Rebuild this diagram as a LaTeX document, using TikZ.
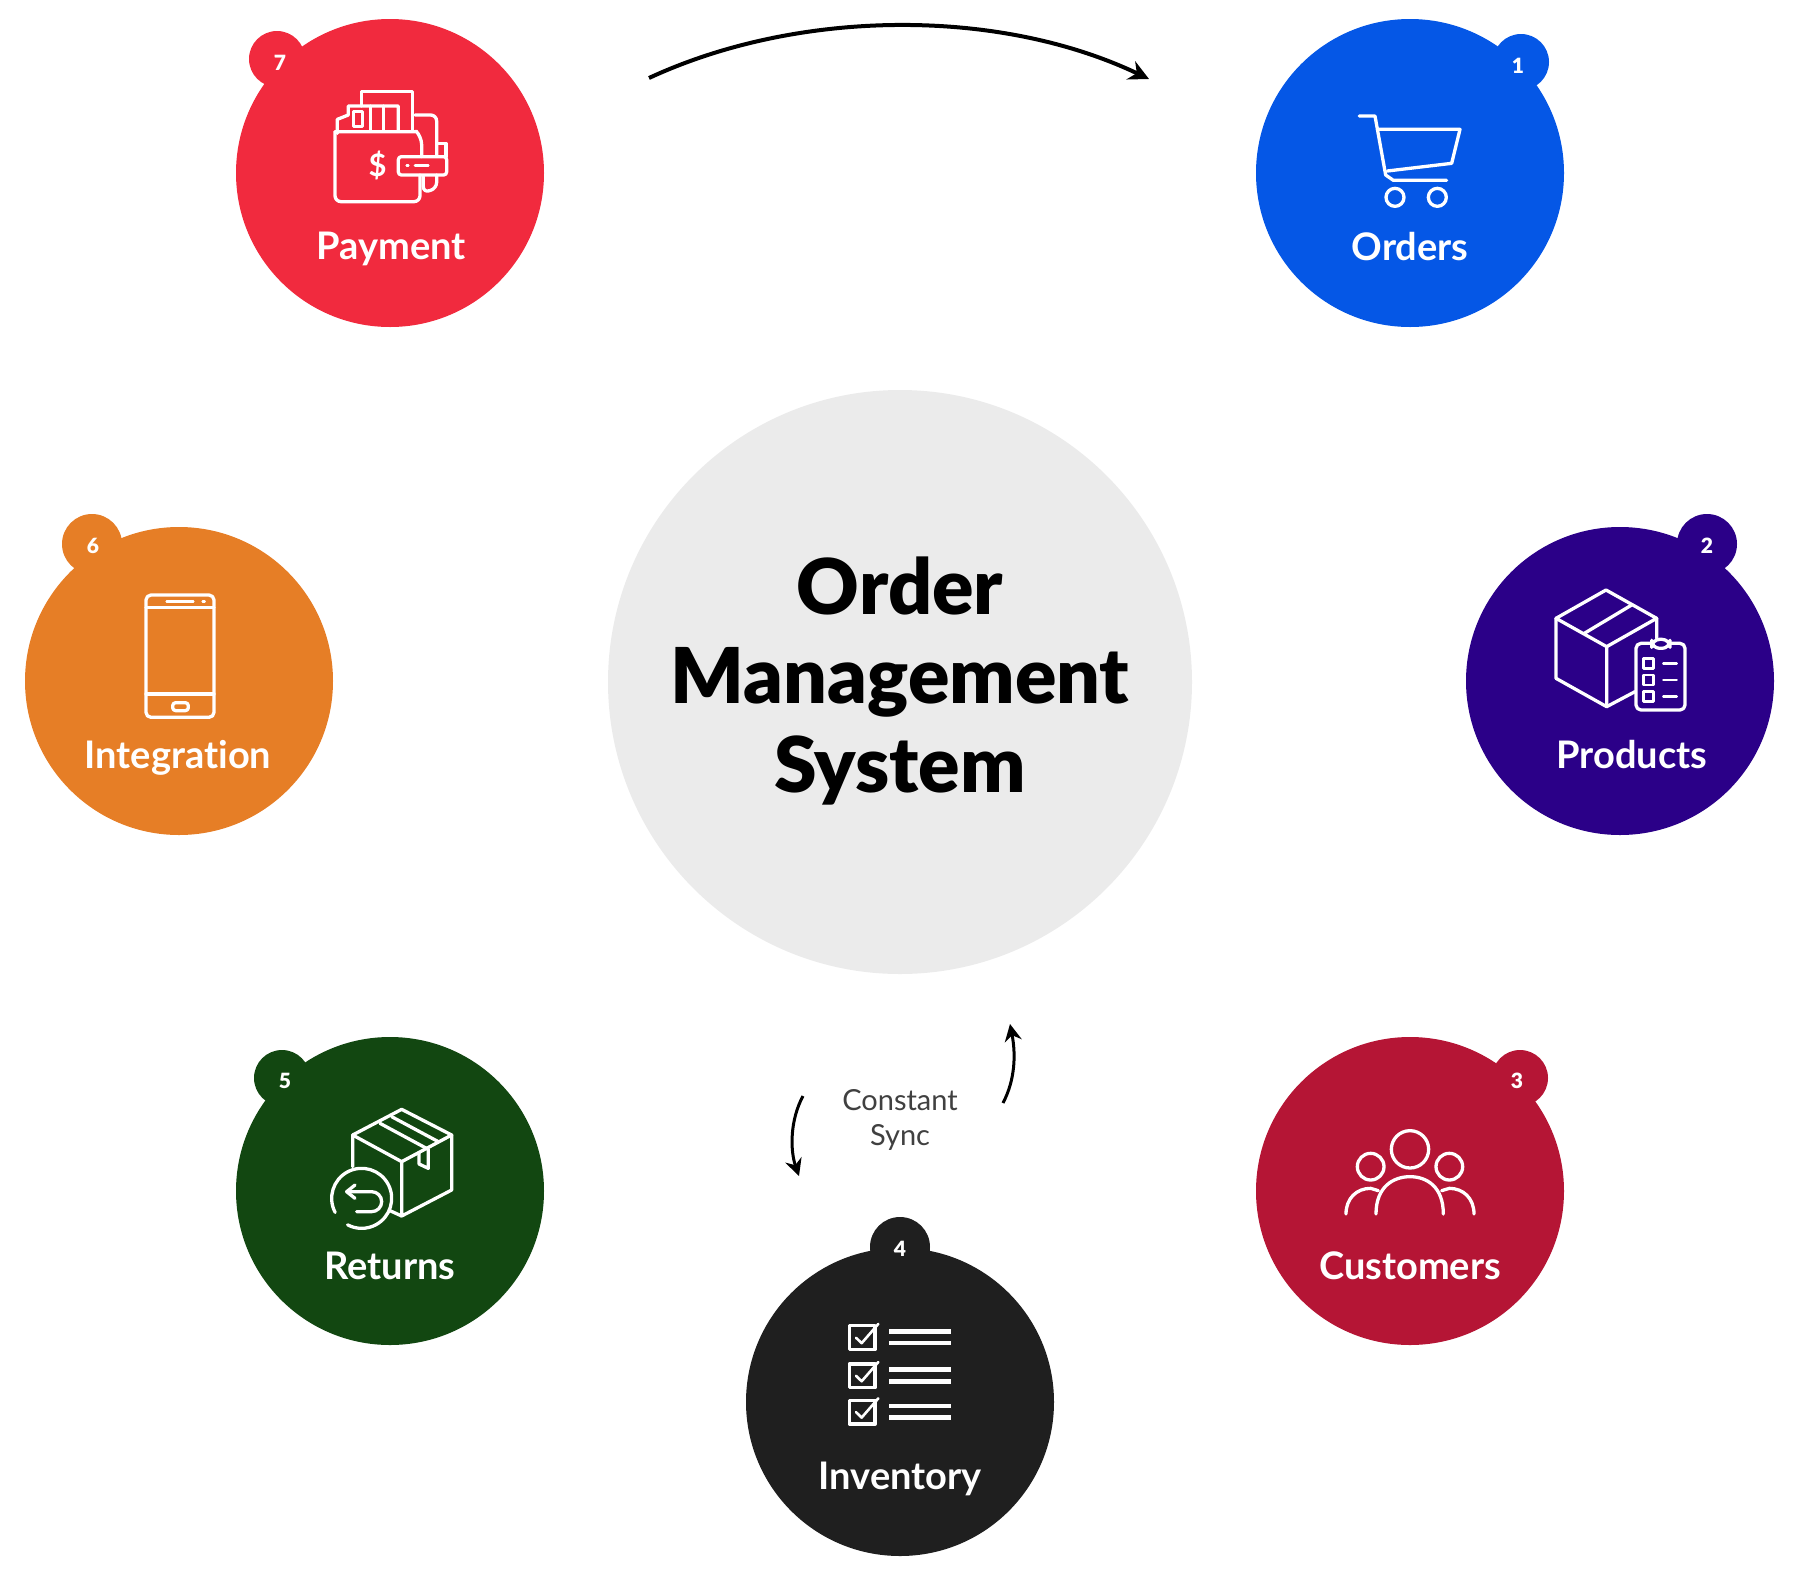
\documentclass[tikz,border=0pt]{standalone}
\usepackage{fontspec}
\setmainfont[Ligatures=NoCommon]{Lato}
\newfontfamily\heavyfont[Ligatures=NoCommon]{Lato Black}
\usetikzlibrary{arrows.meta}
\definecolor{cpay}{HTML}{F12A3E}
\definecolor{cord}{HTML}{0557E6}
\definecolor{cpro}{HTML}{2B0088}
\definecolor{cint}{HTML}{E67E26}
\definecolor{cret}{HTML}{124711}
\definecolor{ccus}{HTML}{B51535}
\definecolor{cinv}{HTML}{1F1F1F}
\definecolor{chub}{HTML}{EBEBEB}
\tikzset{
  disc/.style={circle,minimum size=308pt,inner sep=0pt,draw=none},
  badge/.style={circle,minimum size=58pt,inner sep=0pt,draw=none},
  lbl/.style={text=white,inner sep=0pt,anchor=base,font=\fontsize{38}{44}\selectfont\bfseries},
  num/.style={text=white,inner sep=0pt,font=\heavyfont\fontsize{21}{24}\selectfont},
  ico/.style={draw=white,line width=3.3pt,line join=round,line cap=round},
  icothin/.style={draw=white,line width=2.6pt,line join=round,line cap=round},
  flow/.style={draw=black,-{Stealth[length=20pt,width=20pt]}},
  zoomed/.style={x=0.33333pt,y=-0.33333pt}
}
\begin{document}
\begin{tikzpicture}[x=1pt,y=-1pt]
\useasboundingbox (0,0) rectangle (1800,1572);
% hub
\node[circle,minimum size=584pt,inner sep=0pt,fill=chub] (hub) at (900,682) {};
\node[align=center,inner sep=0pt,font=\heavyfont\fontsize{77}{89}\selectfont] (hubtext) at (900,681) {Order\\Management\\System};
% discs
\node[disc,fill=cpay] (payment) at (390,173) {};
\node[badge,fill=cpay,minimum size=56pt] (bpay) at (277,59) {};
\node[disc,fill=cord] (orders) at (1410,173) {};
\node[badge,fill=cord,minimum size=56pt] (bord) at (1521,62) {};
\node[disc,fill=cpro] (products) at (1620,681) {};
\node[badge,fill=cpro,minimum size=60pt] (bpro) at (1707,544) {};
\node[disc,fill=cint] (integration) at (179,681) {};
\node[badge,fill=cint,minimum size=60pt] (bint) at (92,544) {};
\node[disc,fill=cret] (returns) at (390,1191) {};
\node[badge,fill=cret,minimum size=56pt] (bret) at (282,1078) {};
\node[disc,fill=ccus] (customers) at (1410,1191) {};
\node[badge,fill=ccus,minimum size=56pt] (bcus) at (1520,1078) {};
\node[disc,fill=cinv] (inventory) at (900,1402) {};
\node[badge,fill=cinv,minimum size=60pt] (binv) at (900,1247) {};
% badge numbers
\node[num] (n7) at (280,63) {7};
\node[num] (n1) at (1518,66) {1};
\node[num] (n2) at (1707,546) {2};
\node[num] (n6) at (93,546) {6};
\node[num] (n5) at (285,1081) {5};
\node[num] (n3) at (1517,1081) {3};
\node[num] (n4) at (900,1249) {4};
% labels
\node[lbl] (lpay) at (391,259) {Payment};
\node[lbl] (lord) at (1410,260) {Orders};
\node[lbl] (lpro) at (1632,768) {Products};
\node[lbl] (lint) at (178,768) {Integration};
\node[lbl] (lret) at (390,1279) {Returns};
\node[lbl] (lcus) at (1410,1279) {Customers};
\node[lbl] (linv) at (900,1489) {Inventory};
% sync text
\node[align=center,inner sep=0pt,text=black!75,font=\fontsize{29}{35}\selectfont] (sync) at (900,1120) {Constant\\Sync};
% arrows
\coordinate (a1) at (649,78); \coordinate (a2) at (1149,79);
\draw[flow,line width=4pt] (a1) .. controls (800,8) and (1000,8) .. (a2);
\coordinate (b1) at (1003,1103); \coordinate (b2) at (1010,1024);
\draw[flow,line width=3pt,-{Stealth[length=17pt,width=17pt]}] (b1) .. controls (1015,1080) and (1016,1055) .. (b2);
\coordinate (c1) at (803,1096); \coordinate (c2) at (799,1176);
\draw[flow,line width=3pt,-{Stealth[length=17pt,width=17pt]}] (c1) .. controls (790,1120) and (790,1150) .. (c2);
% Payment icon
\begin{scope}[shift={(220,0)},zoomed]
 \draw[ico] (425,318) -- (425,275) -- (578,275) -- (578,390);
 \draw[ico] (352,400) -- (352,358) -- (385,345) -- (385,318) -- (535,318) -- (535,390);
 \draw[ico] (345,395) -- (590,395) [rounded corners=8pt] -- (605,410) -- (605,470);
 \draw[ico,rounded corners=6pt] (345,395) -- (345,605) -- (600,605) -- (600,525);
 \draw[ico] (452,318) -- (452,390) (490,318) -- (490,390);
 \draw[ico] (400,335) rectangle (428,380);
 \draw[ico,rounded corners=6pt] (585,345) -- (650,345) -- (650,465);
 \draw[ico,rounded corners=6pt] (610,530) -- (610,578) -- (650,565) -- (650,525);
 \draw[ico,rounded corners=3pt] (535,470) rectangle (680,525);
 \draw[ico] (655,430) -- (678,430) -- (678,470);
 \draw[icothin] (560,496) -- (565,496) (585,496) -- (625,496);
 \node[text=white,inner sep=0pt,font=\fontsize{31}{31}\selectfont\bfseries] (dollar) at (473,495) {\$};
\end{scope}
% Orders icon
\begin{scope}[shift={(1240,0)},zoomed]
 \draw[ico] (358,348) -- (405,348) -- (437,525) -- (460,541) -- (620,541);
 \draw[ico] (412,388) -- (660,388) -- (635,490) -- (442,513);
 \draw[ico] (465,592) circle[radius=27];
 \draw[ico] (592,592) circle[radius=27];
\end{scope}
% Products icon
\begin{scope}[shift={(1450,500)},zoomed]
 \draw[ico] (318,355) -- (468,270) -- (620,355) -- (470,440) -- cycle;
 \draw[ico] (318,355) -- (318,535) -- (470,620) -- (470,440);
 \draw[ico] (620,355) -- (620,415) (470,620) -- (555,575);
 \draw[ico] (403,400) -- (545,315);
 \draw[ico,rounded corners=5pt] (558,430) rectangle (705,630);
 \draw[ico,fill=cpro,rounded corners=8pt] (605,418) rectangle (660,445);
 \foreach \yy in {490,540,590}{
   \draw[icothin] (580,\yy-15) rectangle (610,\yy+15);
   \draw[icothin] (640,\yy) -- (680,\yy);
 }
\end{scope}
% Integration icon
\begin{scope}[shift={(10,500)},zoomed]
 \draw[ico,rounded corners=5pt] (408,285) rectangle (612,652);
 \draw[ico] (408,322) -- (612,322) (408,582) -- (612,582);
 \draw[icothin] (470,305) -- (550,305) (578,305) -- (584,305);
 \draw[ico,rounded corners=3pt] (488,608) rectangle (535,632);
\end{scope}
% Returns icon
\begin{scope}[shift={(220,1020)},zoomed]
 \draw[ico] (398,345) -- (545,268) -- (695,345) -- (545,425) -- cycle;
 \draw[ico] (695,345) -- (695,510) -- (545,588) -- (545,425);
 \draw[ico] (398,345) -- (398,440) (510,572) -- (545,588);
 \draw[ico] (480,310) -- (625,388) (515,290) -- (655,365);
 \draw[ico] (597,398) -- (597,432) -- (625,445) -- (625,388);
 \draw[ico] (425,535) ++(152:90) arc[start angle=152,end angle=478,radius=90];
 \draw[ico] (405,495) -- (380,515) -- (405,535);
 \draw[ico] (380,515) -- (455,515) arc[start angle=-90,end angle=90,radius=30] -- (410,575);
\end{scope}
% Customers icon
\begin{scope}[shift={(1240,1020)},zoomed]
 \draw[ico] (510,388) circle[radius=56];
 \draw[ico] (392,440) circle[radius=40];
 \draw[ico] (628,440) circle[radius=40];
 \draw[ico] (408,582) .. controls (408,500) and (460,470) .. (510,470) .. controls (560,470) and (610,500) .. (610,582);
 \draw[ico] (318,582) .. controls (318,535) and (350,505) .. (392,505) -- (415,512);
 \draw[ico] (702,582) .. controls (702,535) and (670,505) .. (628,505) -- (605,512);
\end{scope}
% Inventory icon
\begin{scope}[shift={(730,1000)},x=0.33333pt,y=-0.36311pt]
 \foreach \yy in {0,105,205}{
   \draw[ico] (358,897+\yy) rectangle (435,963+\yy);
   \draw[icothin] (378,930+\yy) -- (395,945+\yy) -- (445,892+\yy);
   \draw[ico,line cap=butt,line width=4.5pt] (478,913+\yy) -- (662,913+\yy) (478,945+\yy) -- (662,945+\yy);
 }
\end{scope}
\end{tikzpicture}
\end{document}
